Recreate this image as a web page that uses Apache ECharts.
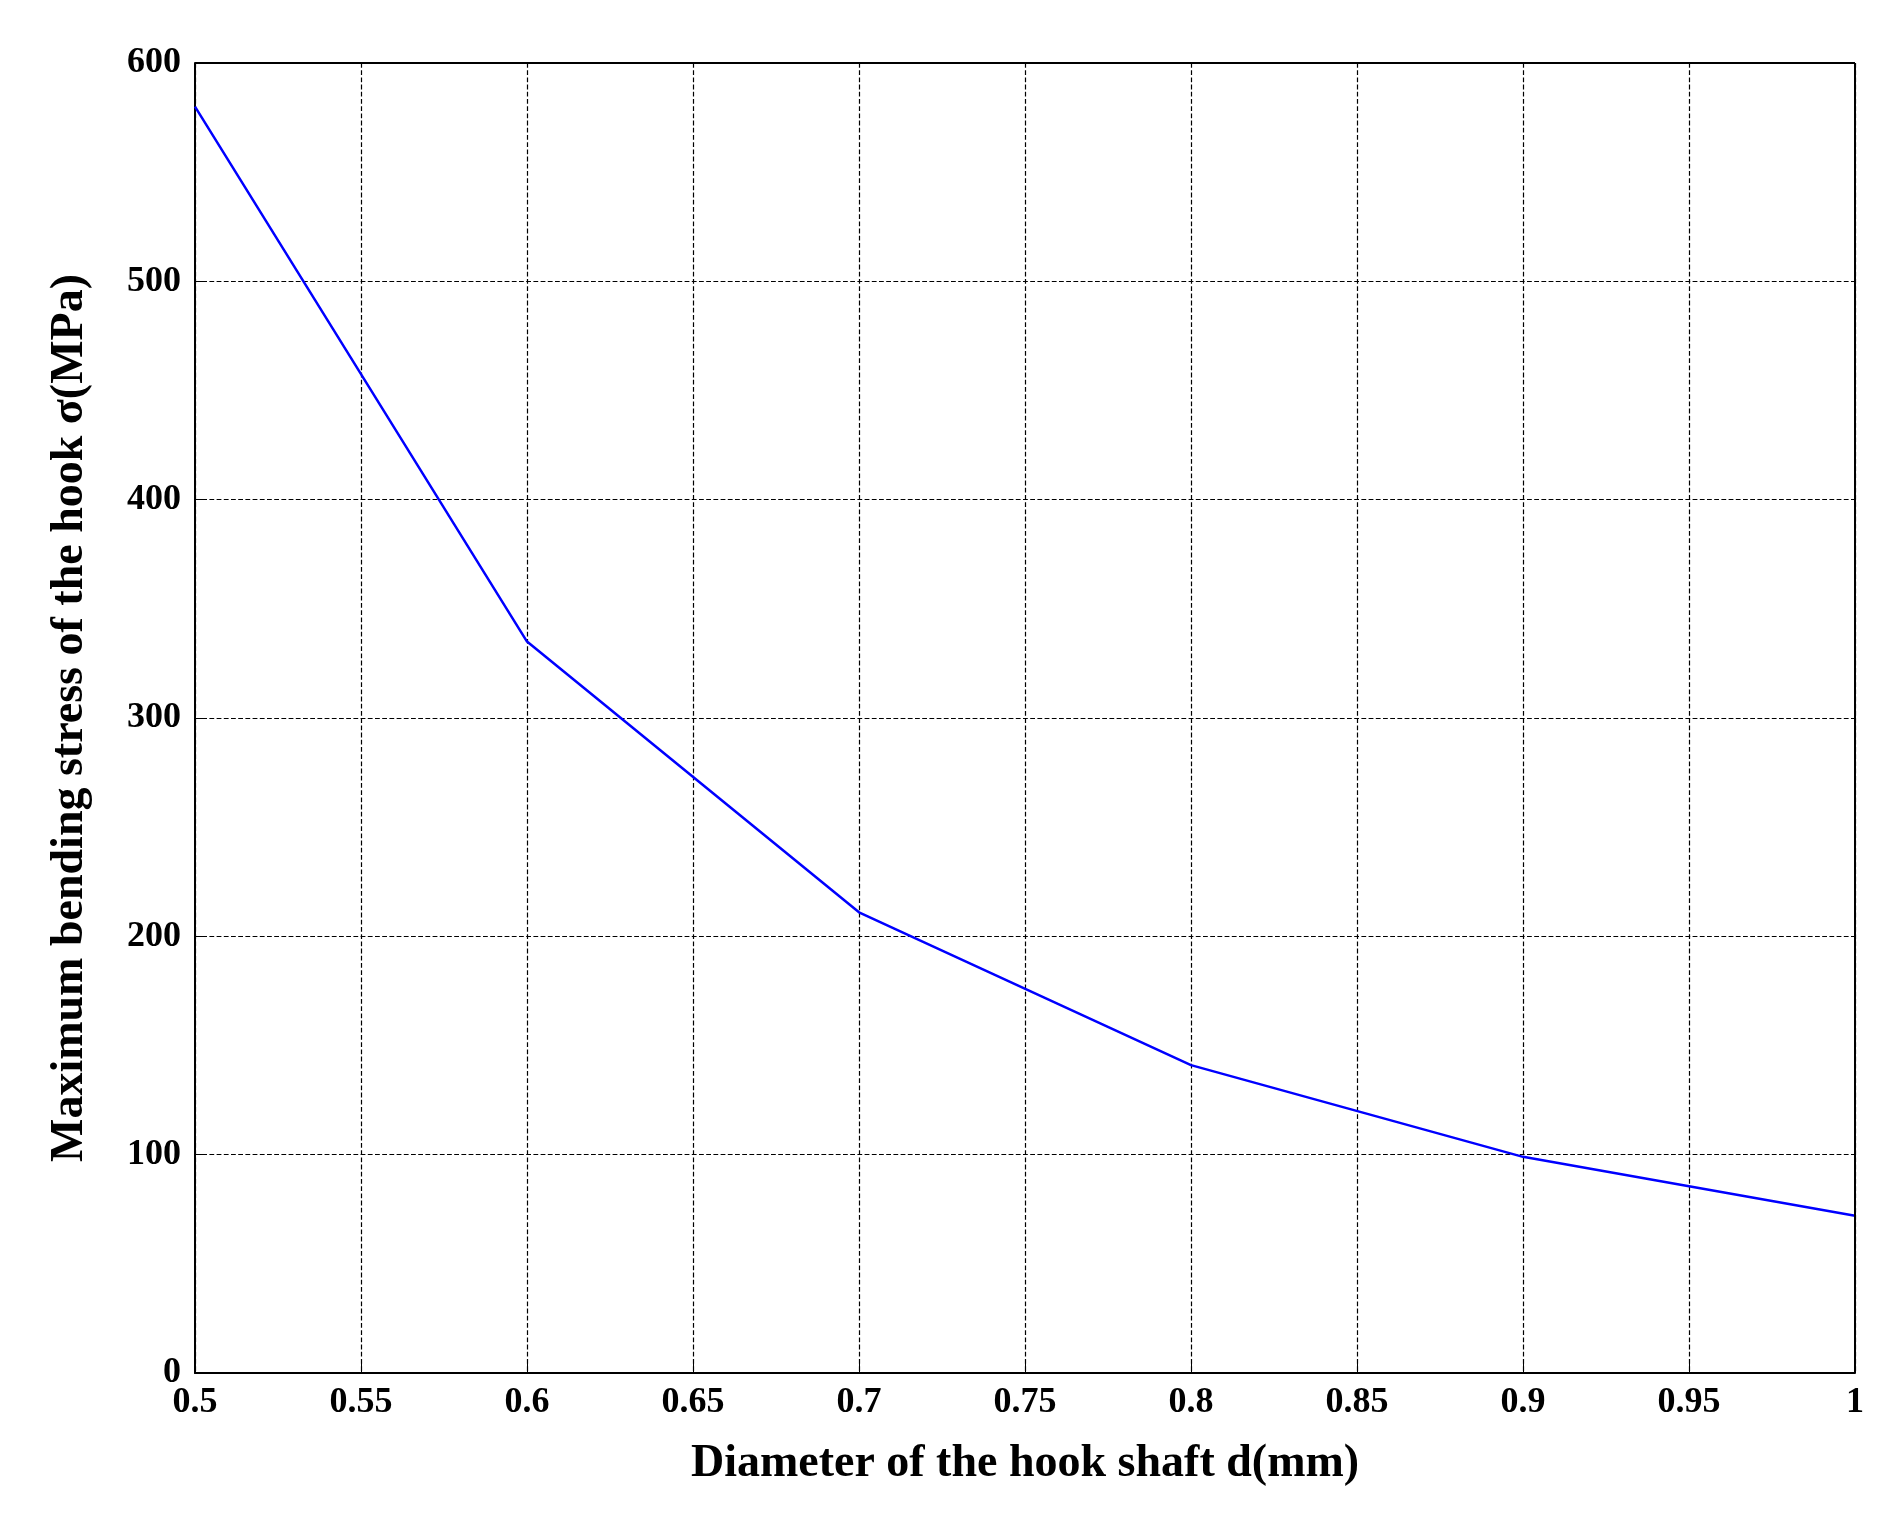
<!DOCTYPE html><html><head><meta charset="utf-8"><script src="https://cdn.jsdelivr.net/npm/echarts@6/dist/echarts.min.js"></script>
<style>body{margin:0;background:#fff}#c{width:1899px;height:1521px}</style></head><body><div id="c"></div><script>
const xs=[0.5,0.6,0.7,0.8,0.9,1.0];
const ys=[580,335,211,141,99,72];
const font='"Liberation Serif", serif';
const grid={type:'dashed',color:'#000',width:1.2,dashOffset:0};
echarts.init(document.getElementById('c')).setOption({
animation:false,
grid:{left:195,right:44,top:63,bottom:148},
xAxis:{type:'value',min:0.5,max:1,interval:0.05,name:'Diameter of the hook shaft d(mm)',nameLocation:'middle',nameGap:68,
nameTextStyle:{fontFamily:font,fontWeight:'bold',fontSize:46,color:'#000'},
axisLine:{lineStyle:{color:'#000',width:2}},axisTick:{inside:true,length:10,lineStyle:{color:'#000'}},
axisLabel:{fontFamily:font,fontWeight:'bold',fontSize:36,color:'#000',margin:12,formatter:v=>String(+v.toFixed(2))},
splitLine:{show:true,lineStyle:grid}},
yAxis:{type:'value',min:0,max:600,interval:100,name:'Maximum bending stress of the hook σ(MPa)',nameLocation:'middle',nameGap:102,
nameTextStyle:{fontFamily:font,fontWeight:'bold',fontSize:46,color:'#000'},
axisLine:{show:true,lineStyle:{color:'#000',width:2}},axisTick:{show:true,inside:true,length:10,lineStyle:{color:'#000'}},
axisLabel:{fontFamily:font,fontWeight:'bold',fontSize:36,color:'#000',margin:14},
splitLine:{show:true,lineStyle:grid}},
series:[{type:'line',data:xs.map((x,i)=>[x,ys[i]]),showSymbol:false,lineStyle:{color:'#0000ff',width:2.5}},
{type:'line',data:[],markLine:{silent:true,symbol:'none',lineStyle:{color:'#000',type:'solid',width:2},label:{show:false},
data:[{xAxis:1},{yAxis:600}]}}]
});
</script></body></html>
